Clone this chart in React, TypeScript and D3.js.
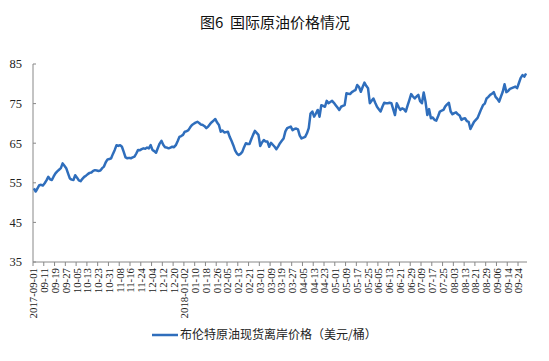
import React from "react";
import * as d3 from "d3";

const title = "图6\u00a0\u00a0国际原油价格情况";
const seriesName = "布伦特原油现货离岸价格（美元/桶）";

const yTicks = [35, 45, 55, 65, 75, 85];

const tickLabels = [
  "2017-09-01", "09-11", "09-19", "09-27", "10-05", "10-13", "10-23", "10-31",
  "11-08", "11-16", "11-24", "12-04", "12-12", "12-20", "2018-01-02", "01-10",
  "01-18", "01-26", "02-05", "02-13", "02-21", "03-01", "03-09", "03-19",
  "03-27", "04-05", "04-13", "04-23", "05-01", "05-09", "05-17", "05-25",
  "06-05", "06-13", "06-21", "06-29", "07-09", "07-17", "07-25", "08-03",
  "08-13", "08-21", "08-29", "09-06", "09-14", "09-24",
];

// Daily Brent spot prices (trading days), 2017-09-01 .. 2018-09-28
const prices = [
  53.6, 52.8, 53.6, 54.4, 54.5, 54.3, 54.9, 55.6, 56.5, 55.9,
  55.7, 56.6, 57.4, 57.9, 58.3, 58.7, 59.9, 59.3, 58.7, 57.4,
  56.1, 55.8, 55.7, 56.9, 56.3, 55.6, 55.4, 56.0, 56.5, 56.8,
  57.2, 57.5, 57.6, 58.0, 58.2, 58.1, 58.0, 58.1, 58.7, 59.1,
  60.2, 60.9, 61.0, 61.2, 62.3, 63.3, 64.5, 64.3, 64.5, 64.1,
  62.8, 61.4, 61.2, 61.3, 61.2, 61.4, 61.6, 62.4, 63.3, 63.2,
  63.5, 63.7, 63.6, 63.9, 63.7, 64.5, 63.3, 63.0, 62.6, 63.8,
  64.9, 65.6, 64.6, 64.0, 63.9, 63.7, 63.9, 64.1, 64.0, 64.5,
  65.5, 66.6, 66.8, 67.1, 67.9, 68.0, 68.3, 69.0, 69.6, 69.9,
  70.2, 70.4, 70.1, 69.7, 69.6, 69.3, 68.8, 69.2, 69.8, 70.3,
  70.7, 71.1, 70.2, 69.6, 67.9, 68.2, 67.7, 67.8, 67.9, 66.6,
  65.6, 64.5, 63.2, 62.4, 62.0, 62.3, 62.8, 64.0, 65.0, 64.8,
  64.8, 66.0, 67.1, 68.1, 67.6, 67.1, 64.3, 65.2, 65.8, 65.4,
  65.4, 64.1, 65.1, 64.6, 64.1, 63.5, 64.2, 65.0, 65.6, 66.2,
  68.0, 68.8, 69.0, 69.2, 68.3, 68.6, 68.7, 68.5, 66.9, 66.2,
  66.4, 66.6, 67.5, 68.8, 72.5, 73.0, 71.7, 72.5, 73.4, 71.7,
  74.6, 74.4, 74.2, 75.7, 75.1, 75.4, 75.7, 75.2, 74.6, 74.0,
  73.4, 74.2, 74.4, 74.6, 77.6, 77.5, 77.4, 77.9, 78.2, 78.4,
  79.7, 79.2, 78.0, 79.2, 80.3, 79.5, 78.9, 75.1, 75.7, 76.3,
  75.2, 74.2, 73.6, 73.0, 74.2, 75.2, 75.1, 75.1, 75.2, 75.1,
  73.6, 72.1, 75.1, 74.2, 73.4, 73.8, 73.6, 73.0, 74.5, 75.9,
  77.4, 76.8, 76.3, 76.8, 77.2, 75.6, 75.1, 77.8, 75.5, 72.1,
  73.6, 71.3, 71.5, 70.9, 70.7, 71.8, 73.0, 73.2, 73.4, 74.3,
  74.8, 75.2, 73.0, 72.3, 72.6, 72.8, 72.3, 72.0, 70.9, 71.2,
  71.3, 70.6, 70.4, 68.6, 69.5, 70.4, 70.9, 71.4, 72.5, 73.6,
  74.6, 75.0, 76.3, 76.7, 77.2, 77.5, 77.9, 76.7, 76.2, 75.5,
  76.8, 78.0, 79.9, 77.9, 78.2, 78.7, 78.9, 79.1, 79.3, 78.9,
  80.2, 81.5, 82.2, 81.8, 82.6,
];

const tickEvery = 6;

const W = 549;
const H = 361;
const plot = { left: 33, right: 527, top: 64, bottom: 262 };
const lineColor = "#2f6ebc";
const serif = "'Liberation Serif', 'Times New Roman', serif";
const cjk = "'Noto Sans CJK SC', 'Noto Sans', sans-serif";

export default function App() {
  const idx = prices.map((_, i) => i);
  const x = d3
    .scaleBand<number>()
    .domain(idx)
    .range([plot.left, plot.right])
    .paddingInner(0)
    .paddingOuter(0);
  const bw = x.bandwidth();
  const cx = (i: number) => (x(i) as number) + bw / 2;
  const y = d3.scaleLinear().domain([35, 85]).range([plot.bottom, plot.top]);

  const line = d3
    .line<number>()
    .x((_, i) => cx(i))
    .y((d) => y(d))
    .curve(d3.curveLinear);

  const tickBoundaries: number[] = [];
  for (let k = 0; k * tickEvery <= prices.length; k++) {
    tickBoundaries.push(k * tickEvery);
  }

  return (
    <svg width={W} height={H} style={{ position: "absolute", left: 0, top: 0, background: "#fff" }}>
      <rect x={0} y={0} width={W} height={H} fill="#fff" />
      <text
        x={275}
        y={28}
        textAnchor="middle"
        fontFamily={cjk}
        fontSize={15}
        fontWeight={400}
        fill="#111"
      >
        {title}
      </text>

      {/* y axis */}
      <line x1={plot.left} x2={plot.left} y1={plot.top} y2={plot.bottom} stroke="#888" strokeWidth={1} />
      {yTicks.map((t) => (
        <g key={t}>
          <line x1={plot.left} x2={plot.left + 3} y1={y(t)} y2={y(t)} stroke="#888" strokeWidth={1} />
          <text
            x={22}
            y={y(t)}
            dy="0.35em"
            textAnchor="end"
            fontFamily={serif}
            fontSize={12.5}
            fill="#222"
          >
            {t}
          </text>
        </g>
      ))}

      {/* x axis */}
      <line x1={plot.left} x2={plot.right} y1={plot.bottom} y2={plot.bottom} stroke="#888" strokeWidth={1} />
      {tickBoundaries.map((b) => {
        const xx = b < prices.length ? (x(b) as number) : plot.right;
        return (
          <line key={b} x1={xx} x2={xx} y1={plot.bottom} y2={plot.bottom + 4} stroke="#888" strokeWidth={1} />
        );
      })}
      {tickLabels.map((lab, k) => {
        const xx = cx(k * tickEvery);
        return (
          <text
            key={lab}
            transform={`translate(${xx + 3.5},${plot.bottom + 6}) rotate(-90)`}
            textAnchor="end"
            fontFamily={serif}
            fontSize={10.8}
            fill="#222"
          >
            {lab}
          </text>
        );
      })}

      {/* series */}
      <path d={line(prices) || ""} fill="none" stroke={lineColor} strokeWidth={2.5} strokeLinejoin="round" />

      {/* legend */}
      <line x1={152} x2={178} y1={335} y2={335} stroke={lineColor} strokeWidth={2.5} />
      <text x={180} y={335} dy="0.35em" fontFamily={cjk} fontSize={12} fill="#222">
        {seriesName}
      </text>
    </svg>
  );
}
